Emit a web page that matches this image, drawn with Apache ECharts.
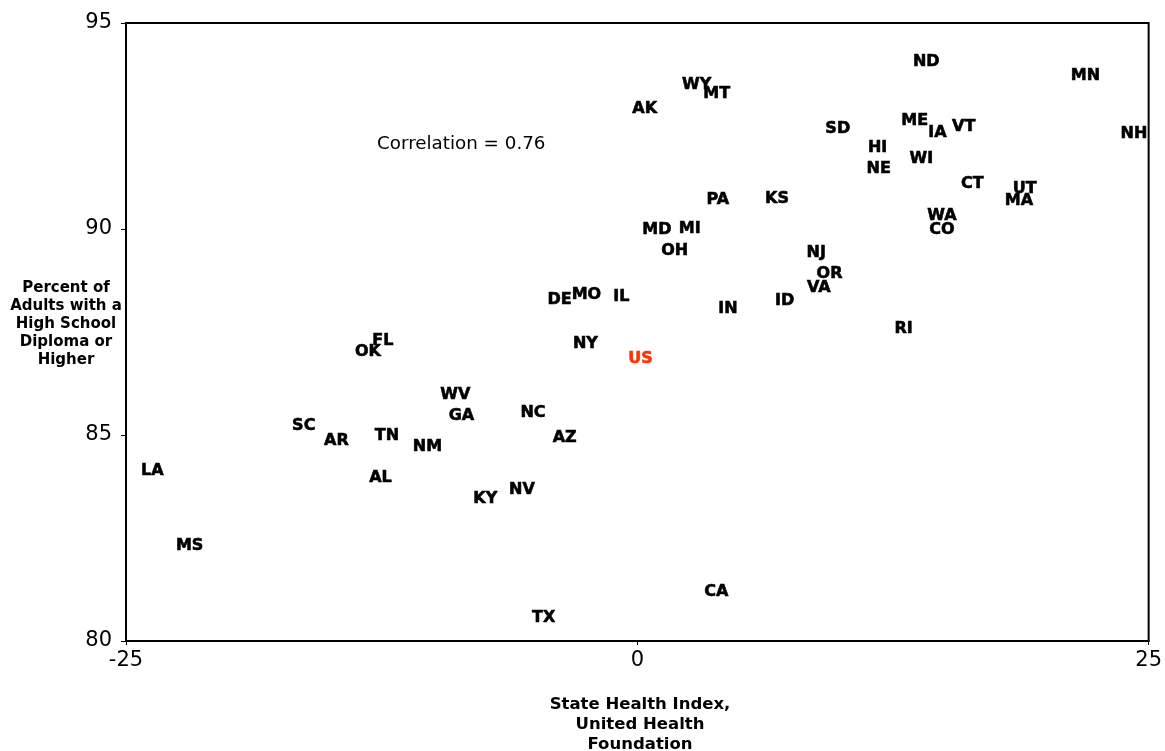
<!DOCTYPE html>
<html>
<head>
<meta charset="utf-8">
<script src="https://cdn.jsdelivr.net/npm/echarts@6/dist/echarts.min.js"></script>
<style>
    html, body { margin: 0; padding: 0; background: #fff; }
    #chart { width: 1165px; height: 751px; }
</style>
</head>
<body>
<div id="chart"></div>
<script>
// state abbreviations, State Health Index (x) and % adults with HS diploma (y)
const states = ['ND', 'MN', 'NH', 'WY', 'MT', 'AK', 'SD', 'ME', 'IA', 'VT',
    'HI', 'NE', 'WI', 'CT', 'UT', 'MA', 'PA', 'KS', 'MD', 'MI',
    'WA', 'CO', 'OH', 'NJ', 'OR', 'VA', 'DE', 'MO', 'IL', 'IN',
    'ID', 'RI', 'FL', 'OK', 'NY', 'US', 'WV', 'GA', 'NC', 'SC',
    'AR', 'TN', 'NM', 'AZ', 'AL', 'KY', 'NV', 'LA', 'MS', 'CA', 'TX'];
const healthIndex = [14.13, 21.91, 24.28, 2.90, 3.88, 0.36, 9.80, 13.56, 14.67, 15.96,
    11.75, 11.80, 13.89, 16.38, 18.94, 18.66, 3.94, 6.83, 0.96, 2.56,
    14.89, 14.89, 1.83, 8.75, 9.40, 8.87, -3.80, -2.49, -0.78, 4.43,
    7.20, 13.02, -12.44, -13.17, -2.54, 0.16, -8.90, -8.60, -5.10, -16.31,
    -14.71, -12.24, -10.26, -3.55, -12.56, -7.43, -5.64, -23.71, -21.89, 3.86, -4.58];
const diplomaPct = [94.06, 93.72, 92.30, 93.51, 93.27, 92.91, 92.42, 92.63, 92.34, 92.47,
    91.96, 91.47, 91.71, 91.09, 90.98, 90.68, 90.70, 90.73, 89.97, 90.01,
    90.31, 89.97, 89.47, 89.43, 88.92, 88.58, 88.29, 88.39, 88.35, 88.05,
    88.25, 87.57, 87.28, 87.03, 87.22, 86.86, 85.98, 85.47, 85.53, 85.23,
    84.87, 84.99, 84.71, 84.94, 83.96, 83.44, 83.66, 84.14, 82.30, 81.20, 80.57];
const xRange = [-25, 25];
const yRange = [80, 95];

const FONT = 'DejaVu Sans';

const points = states.map((s, i) => {
    const c = s === 'US' ? '#ff3300' : '#000';
    return {
        name: s,
        value: [healthIndex[i], diplomaPct[i]],
        label: { color: c, textBorderColor: c }
    };
});

const chart = echarts.init(document.getElementById('chart'));
chart.setOption({
    animation: false,
    textStyle: { fontFamily: FONT },
    grid: {
        left: 126, right: 16, top: 23, bottom: 110,
        show: true, borderColor: '#000', borderWidth: 2
    },
    xAxis: {
        type: 'value',
        min: xRange[0], max: xRange[1], interval: 25,
        splitLine: { show: false },
        axisLine: { onZero: false, lineStyle: { color: '#000', width: 2 } },
        axisTick: { show: true, length: 4, lineStyle: { color: '#000', width: 1 } },
        axisLabel: { color: '#000', fontSize: 21, fontFamily: FONT, margin: 9 }
    },
    yAxis: {
        type: 'value',
        min: yRange[0], max: yRange[1], interval: 5,
        splitLine: { show: false },
        axisLine: { show: true, onZero: false, lineStyle: { color: '#000', width: 2 } },
        axisTick: { show: true, length: 5, lineStyle: { color: '#000', width: 1 } },
        axisLabel: { color: '#000', fontSize: 21, fontFamily: FONT, margin: 14 }
    },
    graphic: [
        {
            type: 'text', x: 66, y: 324,
            style: {
                text: 'Percent of\nAdults with a\nHigh School\nDiploma or\nHigher',
                font: 'bold 15px "DejaVu Sans"', lineHeight: 18,
                align: 'center', verticalAlign: 'middle', fill: '#000'
            }
        },
        {
            type: 'text', x: 640, y: 725,
            style: {
                text: 'State Health Index,\nUnited Health\nFoundation',
                font: 'bold 16.5px "DejaVu Sans"', lineHeight: 20,
                align: 'center', verticalAlign: 'middle', fill: '#000'
            }
        },
        {
            type: 'text', x: 377, y: 144,
            style: {
                text: 'Correlation = 0.76',
                font: '18.3px "DejaVu Sans"',
                align: 'left', verticalAlign: 'middle', fill: '#000'
            }
        }
    ],
    series: [{
        type: 'scatter',
        silent: true,
        symbolSize: 1,
        itemStyle: { color: 'rgba(0,0,0,0)', opacity: 1 },
        data: points,
        label: {
            show: true,
            position: 'inside',
            formatter: (p) => p.name,
            fontFamily: FONT,
            fontWeight: 'bold',
            fontSize: 16,
            textBorderWidth: 0.6
        }
    }]
});
</script>
</body>
</html>
